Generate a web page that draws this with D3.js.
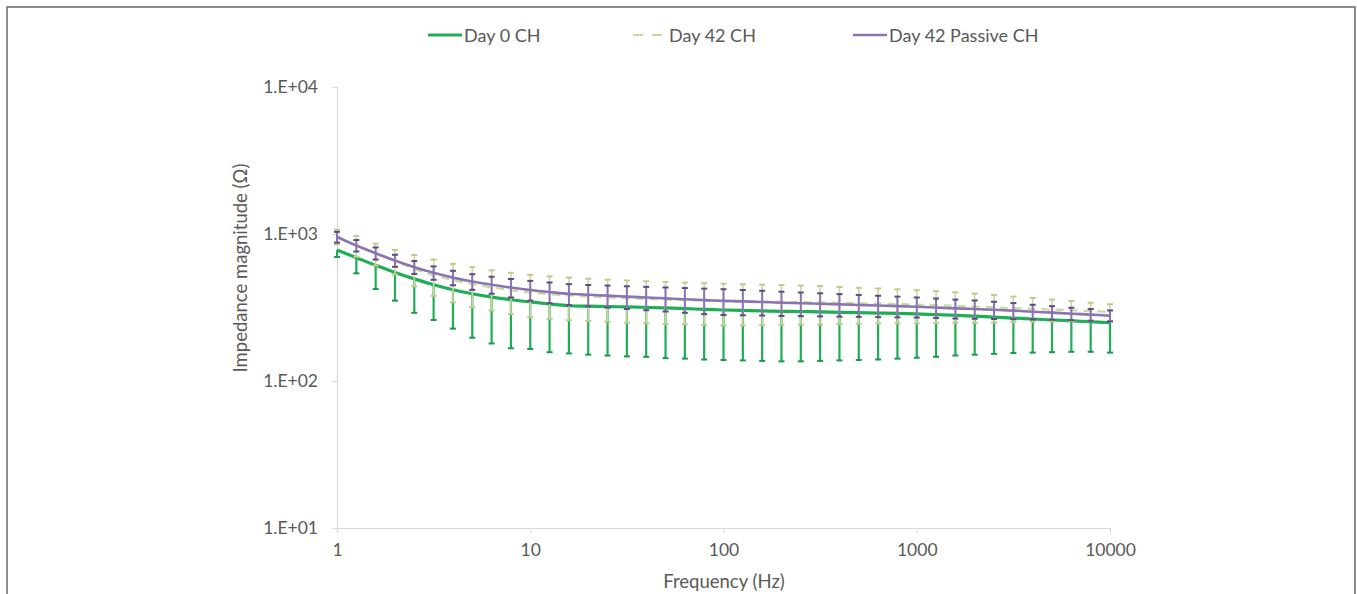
<!DOCTYPE html>
<html>
<head>
<meta charset="utf-8">
<script src="https://cdn.jsdelivr.net/npm/d3@7"></script>
<style>
  html, body { margin: 0; padding: 0; background: #ffffff; }
  svg { display: block; }
  text { font-family: Lato, "Open Sans", sans-serif; fill: #595959; }
</style>
</head>
<body>
<svg id="chart" width="1357" height="594"></svg>
<script>
// ---------- data ----------
const frequencies = [1, 1.259, 1.585, 1.995, 2.512, 3.162, 3.981, 5.012, 6.310, 7.943,
  10, 12.59, 15.85, 19.95, 25.12, 31.62, 39.81, 50.12, 63.10, 79.43,
  100, 125.9, 158.5, 199.5, 251.2, 316.2, 398.1, 501.2, 631.0, 794.3,
  1000, 1259, 1585, 1995, 2512, 3162, 3981, 5012, 6310, 7943, 10000];

const day0Mean = [779, 690, 612, 548, 495, 452, 418, 392, 372, 357,
  345, 334, 325, 323, 321, 319, 317, 314, 311, 307,
  304, 302, 300, 298, 297, 295, 293, 292, 290, 288,
  286, 283, 280, 276, 272, 268, 264, 260, 257, 253, 249];
const day0Sd = [81, 150, 190, 196, 204, 192, 191, 195, 192, 190,
  180, 177, 171, 172, 172, 172, 171, 171, 169, 167,
  165, 164, 163, 162, 161, 158, 155, 153, 150, 146,
  142, 137, 131, 125, 119, 113, 108, 103, 99, 95, 93];

const day42Mean = [960, 835, 735, 655, 580, 525, 485, 456, 434, 415,
  400, 390, 382, 376, 371, 366, 362, 358, 355, 352,
  349, 347, 346, 345, 344, 342, 340, 338, 336, 334,
  331, 328, 325, 321, 317, 313, 310, 306, 303, 299, 295];
const day42Sd = [110, 135, 125, 125, 140, 145, 142, 138, 132, 130,
  128, 125, 123, 120, 118, 117, 115, 114, 112, 111,
  110, 108, 106, 104, 102, 100, 96, 93, 90, 87,
  84, 80, 76, 72, 67, 62, 57, 52, 47, 42, 38];

const passiveMean = [954, 835, 740, 660, 595, 545, 505, 475, 452, 432,
  416, 403, 392, 386, 381, 375, 370, 365, 360, 355,
  351, 348, 345, 341, 338, 335, 332, 329, 326, 323,
  320, 316, 312, 309, 305, 301, 296, 292, 287, 283, 278];
const passiveSd = [80, 75, 70, 62, 60, 57, 57, 58, 60, 62,
  64, 65, 64, 64, 65, 66, 67, 68, 69, 70,
  70, 68, 66, 64, 62, 60, 58, 56, 54, 52,
  50, 48, 46, 44, 41, 38, 34, 31, 28, 26, 24];

const xTickValues = [1, 10, 100, 1000, 10000];
const xTickLabels = ["1", "10", "100", "1000", "10000"];
const yTickValues = [10, 100, 1000, 10000];
const yTickLabels = ["1.E+01", "1.E+02", "1.E+03", "1.E+04"];

const seriesNames = ["Day 0 CH", "Day 42 CH", "Day 42 Passive CH"];

// ---------- layout ----------
const svg = d3.select("#chart");
const x = d3.scaleLog().domain([1, 10000]).range([337, 1110]);
const y = d3.scaleLog().domain([10, 10000]).range([528, 87]);

// frame
svg.append("rect").attr("x", 7).attr("y", 7).attr("width", 1348).attr("height", 600)
  .attr("fill", "none").attr("stroke", "#707070").attr("stroke-width", 1.6);

// axes
const xAxis = d3.axisBottom(x).tickValues(xTickValues)
  .tickFormat((d, i) => xTickLabels[i]).tickSizeOuter(0).tickSize(5).tickPadding(11);
const gx = svg.append("g").attr("transform", "translate(0,528)").call(xAxis);
gx.select(".domain").attr("stroke", "#d9d9d9").attr("stroke-width", 1.2);
gx.selectAll(".tick line").attr("stroke", "#d9d9d9");
gx.selectAll(".tick text").attr("font-size", 17.5).attr("fill", "#595959");

const yAxis = d3.axisLeft(y).tickValues(yTickValues)
  .tickFormat((d, i) => yTickLabels[i]).tickSizeOuter(0).tickSize(5).tickPadding(14);
const gy = svg.append("g").attr("transform", "translate(337,0)").call(yAxis);
gy.select(".domain").attr("stroke", "#d9d9d9").attr("stroke-width", 1.2);
gy.selectAll(".tick line").attr("stroke", "#d9d9d9");
gy.selectAll(".tick text").attr("font-size", 17.5).attr("fill", "#595959");

svg.selectAll(".tick text").style("font-family", "Lato, 'Open Sans', sans-serif");

// axis titles
svg.append("text").attr("x", 724).attr("y", 588).attr("text-anchor", "middle")
  .attr("font-size", 18.5).text("Frequency (Hz)");
svg.append("text").attr("transform", "translate(247,268) rotate(-90)")
  .attr("text-anchor", "middle").attr("font-size", 18.5).text("Impedance magnitude (Ω)");

// ---------- series ----------
const series = [
  { name: seriesNames[0], mean: day0Mean, sd: day0Sd, color: "#1fae55", capColor: "#1a9a4a", width: 3.2, dash: null, barWidth: 2.2, minusOnly: true },
  { name: seriesNames[1], mean: day42Mean, sd: day42Sd, color: "#c9d99e", capColor: "#c2c98e", width: 2.2, dash: "8,6", barWidth: 1.6, minusOnly: false },
  { name: seriesNames[2], mean: passiveMean, sd: passiveSd, color: "#8a74b3", capColor: "#5f4b80", width: 2.6, dash: null, barWidth: 2.0, minusOnly: false }
];

const line = d3.line().curve(d3.curveCatmullRom.alpha(0.5))
  .x(d => x(d.f)).y(d => y(d.v));

const capHalf = 3;
series.forEach(s => {
  const pts = frequencies.map((f, i) => ({ f, v: s.mean[i], sd: s.sd[i] }));
  const g = svg.append("g");
  pts.forEach(p => {
    const top = s.minusOnly ? p.v : p.v + p.sd;
    const bot = p.v - p.sd;
    g.append("line").attr("x1", x(p.f)).attr("x2", x(p.f))
      .attr("y1", y(top)).attr("y2", y(bot))
      .attr("stroke", s.color).attr("stroke-width", s.barWidth);
    g.append("line").attr("x1", x(p.f) - capHalf).attr("x2", x(p.f) + capHalf)
      .attr("y1", y(bot)).attr("y2", y(bot))
      .attr("stroke", s.capColor).attr("stroke-width", 2);
    if (!s.minusOnly) {
      g.append("line").attr("x1", x(p.f) - capHalf).attr("x2", x(p.f) + capHalf)
        .attr("y1", y(top)).attr("y2", y(top))
        .attr("stroke", s.capColor).attr("stroke-width", 2);
    }
  });
  g.append("path").datum(pts).attr("d", line)
    .attr("fill", "none").attr("stroke", s.color).attr("stroke-width", s.width)
    .attr("stroke-dasharray", s.dash);
});

// ---------- legend ----------
const legendX = [428, 633, 853];
series.forEach((s, i) => {
  const lx = legendX[i];
  svg.append("line").attr("x1", lx).attr("x2", lx + 34).attr("y1", 35).attr("y2", 35)
    .attr("stroke", s.color).attr("stroke-width", s.width)
    .attr("stroke-dasharray", s.dash ? "10,9" : null);
  svg.append("text").attr("x", lx + 36).attr("y", 41.5).attr("font-size", 18)
    .text(s.name);
});
</script>
</body>
</html>
